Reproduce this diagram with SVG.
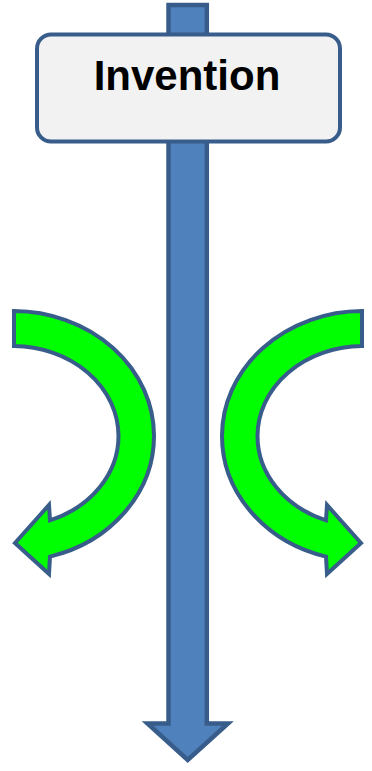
<svg xmlns="http://www.w3.org/2000/svg" width="372" height="771" viewBox="0 0 372 771">
<style>
.shaft{fill:#4F81BD;stroke:#385D8A;stroke-width:4.5;stroke-linejoin:miter}
.curve{fill:#00FF00;stroke:#385D8A;stroke-width:4;stroke-linejoin:miter}
.box{fill:#F2F2F2;stroke:#385D8A;stroke-width:4}
.label{font-family:"Liberation Sans",Arial,sans-serif;font-weight:bold;font-size:42px;fill:#000;text-anchor:middle}
</style>
<rect width="372" height="771" fill="#FFFFFF"/>
<g id="connectors">
<path id="main-arrow" class="shaft" d="M168.5,5 L206.8,5 L206.8,723.5 L228,723.5 L187.7,760 L147.5,723.5 L168.5,723.5 Z"/>
<path id="left-curved-arrow" class="curve" d="M14,311 A141 125 0 0 1 154,436 A141 125 0 0 1 50,556.6 L49,574 L15,543 L49,505 L50,520.3 A105.5 90 0 0 0 118.5,436 A105.5 90 0 0 0 14,346 Z"/>
<path id="right-curved-arrow" class="curve" d="M362,311 A141 125 0 0 0 222,436 A141 125 0 0 0 326,556.6 L327,574 L361,543 L327,505 L326,520.3 A105.5 90 0 0 1 257.5,436 A105.5 90 0 0 1 362,346 Z"/>
</g>
<g id="invention">
<rect class="box" x="37" y="34.5" width="303" height="107" rx="14" ry="14"/>
<text class="label" x="187" y="90">Invention</text>
</g>
</svg>
